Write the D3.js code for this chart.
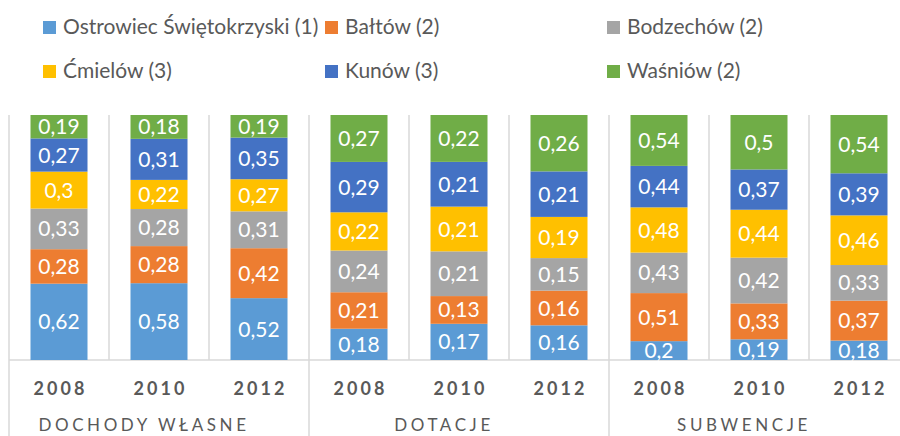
<!DOCTYPE html>
<html>
<head>
<meta charset="utf-8">
<script src="https://cdn.jsdelivr.net/npm/d3@7"></script>
<style>
  body { margin: 0; background: #fff; }
  svg { display: block; font-family: Lato, "Open Sans", sans-serif; }
</style>
</head>
<body>
<div id="chart"></div>
<script>
// Series, bottom to top in each stack
var gminy = ["Ostrowiec Świętokrzyski (1)", "Bałtów (2)", "Bodzechów (2)", "Ćmielów (3)", "Kunów (3)", "Waśniów (2)"];
var kolory = ["#5b9bd5", "#ed7d31", "#a5a5a5", "#ffc000", "#4472c4", "#70ad47"];

var grupy = ["DOCHODY WŁASNE", "DOTACJE", "SUBWENCJE"];
var lata = ["2008", "2010", "2012"];

// one row per column (group x year), one value per gmina
var dochodyWlasne = [
    [0.62, 0.28, 0.33, 0.30, 0.27, 0.19],
    [0.58, 0.28, 0.28, 0.22, 0.31, 0.18],
    [0.52, 0.42, 0.31, 0.27, 0.35, 0.19]
];
var dotacje = [
    [0.18, 0.21, 0.24, 0.22, 0.29, 0.27],
    [0.17, 0.13, 0.21, 0.21, 0.21, 0.22],
    [0.16, 0.16, 0.15, 0.19, 0.21, 0.26]
];
var subwencje = [
    [0.20, 0.51, 0.43, 0.48, 0.44, 0.54],
    [0.19, 0.33, 0.42, 0.44, 0.37, 0.50],
    [0.18, 0.37, 0.33, 0.46, 0.39, 0.54]
];

var width = 900, height = 436;
var margin = { top: 115, bottom: 76, left: 9 };
var baseY = height - margin.bottom;

// Building the columns
var kolumny = [];
[dochodyWlasne, dotacje, subwencje].forEach(function (g, gi) {
    g.forEach(function (vals, yi) {
        var row = { key: gi + "-" + yi, grupa: gi, rok: lata[yi] };
        gminy.forEach(function (name, k) { row[name] = vals[k]; });
        kolumny.push(row);
    });
});

var svg = d3.select("#chart").append("svg")
    .attr("width", width)
    .attr("height", height);

var x = d3.scaleBand()
    .domain(kolumny.map(function (d) { return d.key; }))
    .range([margin.left, margin.left + 900])
    .paddingInner(0.43)
    .paddingOuter(0.215);

var y = d3.scaleLinear()
    .domain([0, 1])
    .range([baseY, margin.top]);

var stack = d3.stack()
    .keys(gminy)
    .offset(d3.stackOffsetExpand);
var series = stack(kolumny);

// Grid lines between the columns
var step = x.step();
var lines = d3.range(kolumny.length + 1);
svg.append("g").selectAll("line")
    .data(lines)
    .enter().append("line")
    .attr("x1", function (i) { return margin.left + i * step; })
    .attr("x2", function (i) { return margin.left + i * step; })
    .attr("y1", margin.top)
    .attr("y2", function (i) { return i % 3 === 0 ? height : baseY; })
    .attr("stroke", "#d9d9d9")
    .attr("stroke-width", 1.5);

svg.append("line")
    .attr("x1", margin.left).attr("x2", width)
    .attr("y1", baseY).attr("y2", baseY)
    .attr("stroke", "#d9d9d9")
    .attr("stroke-width", 1.5);

// Stacked bars
var layer = svg.append("g").selectAll("g")
    .data(series)
    .enter().append("g")
    .attr("fill", function (d, i) { return kolory[i]; });

layer.selectAll("rect")
    .data(function (d) { return d; })
    .enter().append("rect")
    .attr("x", function (d) { return x(d.data.key); })
    .attr("width", x.bandwidth())
    .attr("y", function (d) { return y(d[1]); })
    .attr("height", function (d) { return y(d[0]) - y(d[1]); });

// Value labels
layer.each(function (s) {
    d3.select(this).selectAll("text")
        .data(s)
        .enter().append("text")
        .attr("x", function (d) { return x(d.data.key) + x.bandwidth() / 2; })
        .attr("y", function (d) { return (y(d[0]) + y(d[1])) / 2; })
        .attr("dy", "0.36em")
        .attr("text-anchor", "middle")
        .attr("fill", "#fff")
        .style("font-size", "21px")
        .text(function (d) { return String(d.data[s.key]).replace(".", ","); });
});

// Year labels
svg.append("g").selectAll("text")
    .data(kolumny)
    .enter().append("text")
    .attr("x", function (d) { return x(d.key) + x.bandwidth() / 2 + 1.5; })
    .attr("y", 395)
    .attr("text-anchor", "middle")
    .attr("fill", "#595959")
    .style("font-size", "18px")
    .style("font-weight", "bold")
    .style("letter-spacing", "3px")
    .text(function (d) { return d.rok; });

// Group labels
svg.append("g").selectAll("text")
    .data(grupy)
    .enter().append("text")
    .attr("x", function (d, i) { return margin.left + (i * 3 + 1.5) * step - 15; })
    .attr("y", 431)
    .attr("text-anchor", "middle")
    .attr("fill", "#595959")
    .style("font-size", "17px")
    .style("letter-spacing", "3.6px")
    .text(function (d) { return d; });

// Legend
var legX = [43, 325, 607];
var legend = svg.append("g").selectAll("g")
    .data(gminy)
    .enter().append("g")
    .attr("transform", function (d, i) {
        return "translate(" + legX[i % 3] + "," + (i < 3 ? 27 : 71) + ")";
    });

legend.append("rect")
    .attr("x", 0).attr("y", -6)
    .attr("width", 13).attr("height", 13)
    .attr("fill", function (d, i) { return kolory[i]; });

legend.append("text")
    .attr("x", 20)
    .attr("y", 0)
    .attr("dy", "0.35em")
    .attr("fill", "#595959")
    .style("font-size", "21px")
    .text(function (d) { return d; });
</script>
</body>
</html>
